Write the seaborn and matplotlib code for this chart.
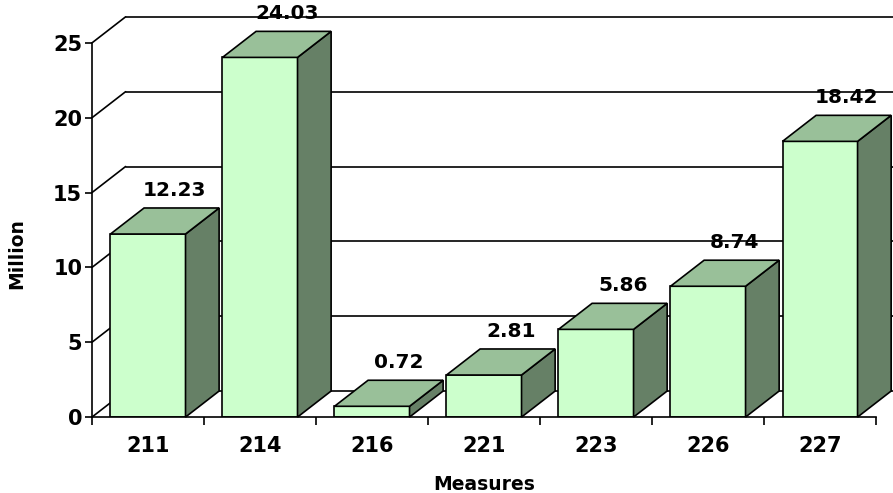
import matplotlib
matplotlib.use("Agg")
import matplotlib.pyplot as plt
from matplotlib.patches import Polygon
import seaborn as sns
import pandas as pd

# data
measures = ["211", "214", "216", "221", "223", "226", "227"]
millions = [12.23, 24.03, 0.72, 2.81, 5.86, 8.74, 18.42]
y_ticks = [0, 5, 10, 15, 20, 25]

front_col = "#CCFFCC"
top_col = "#99C099"
side_col = "#668066"

df = pd.DataFrame({"Measures": measures, "Million": millions})

sns.set_style("white")
plt.rcParams["font.family"] = ["DejaVu Sans"]
plt.rcParams["font.weight"] = "bold"
plt.rcParams["text.color"] = "black"
plt.rcParams["axes.labelcolor"] = "black"
plt.rcParams["xtick.color"] = "black"
plt.rcParams["ytick.color"] = "black"

fig = plt.figure(figsize=(8.93, 4.93), dpi=100)
ax = fig.add_axes([0.103, 0.154, 0.878, 0.759])

sns.barplot(data=df, x="Measures", y="Million", color=front_col, width=0.67,
            edgecolor="black", linewidth=1.2, saturation=1, ax=ax, zorder=3)

ax.set_xlim(-0.5, len(measures) - 0.5)
ax.set_ylim(0, 25)

# depth of the fake 3d effect, in data units
dx = 0.30
dy = 1.74

# back wall gridlines and diagonals
x0 = -0.5
for t in y_ticks:
    ax.plot([x0, x0 + dx], [t, t + dy], color="black", lw=1.2, clip_on=False, zorder=1)
    ax.plot([x0 + dx, len(measures) + 1], [t + dy, t + dy], color="black", lw=1.2,
            clip_on=False, zorder=1)

# top and side faces from each bar patch
for p, v in zip(ax.patches, millions):
    xl = p.get_x()
    w = p.get_width()
    h = p.get_height()
    xr = xl + w
    top = Polygon([[xl, h], [xl + dx, h + dy], [xr + dx, h + dy], [xr, h]],
                  closed=True, facecolor=top_col, edgecolor="black", lw=1.2,
                  clip_on=False, zorder=3)
    side = Polygon([[xr, 0], [xr + dx, dy], [xr + dx, h + dy], [xr, h]],
                   closed=True, facecolor=side_col, edgecolor="black", lw=1.2,
                   clip_on=False, zorder=3)
    ax.add_patch(side)
    ax.add_patch(top)
    ax.annotate(f"{v:.2f}", (xl + w / 2 + 0.24, h + dy), xytext=(0, 6),
                textcoords="offset points", ha="center", va="bottom",
                fontsize=14.5, fontweight="bold", zorder=5, annotation_clip=False)

for s in ["top", "right"]:
    ax.spines[s].set_visible(False)
for s in ["left", "bottom"]:
    ax.spines[s].set_color("black")
    ax.spines[s].set_linewidth(1.2)
    ax.spines[s].set_zorder(4)

ax.set_yticks(y_ticks)
ax.set_yticklabels([str(t) for t in y_ticks], fontsize=15, fontweight="bold")
ax.set_xticks(range(len(measures)))
ax.set_xticklabels(measures, fontsize=15, fontweight="bold")
ax.set_xticks([i - 0.5 for i in range(len(measures) + 1)], minor=True)
ax.tick_params(axis="y", left=True, length=5, width=1.2, pad=2)
ax.tick_params(axis="x", which="major", bottom=False, pad=10)
ax.tick_params(axis="x", which="minor", bottom=True, length=6, width=1.2)

ax.set_xlabel("Measures", fontsize=13.5, fontweight="bold", labelpad=14)
ax.set_ylabel("Million", fontsize=13.5, fontweight="bold")
ax.yaxis.set_label_coords(-0.084, 0.436)

fig.savefig("out.png", dpi=100)
